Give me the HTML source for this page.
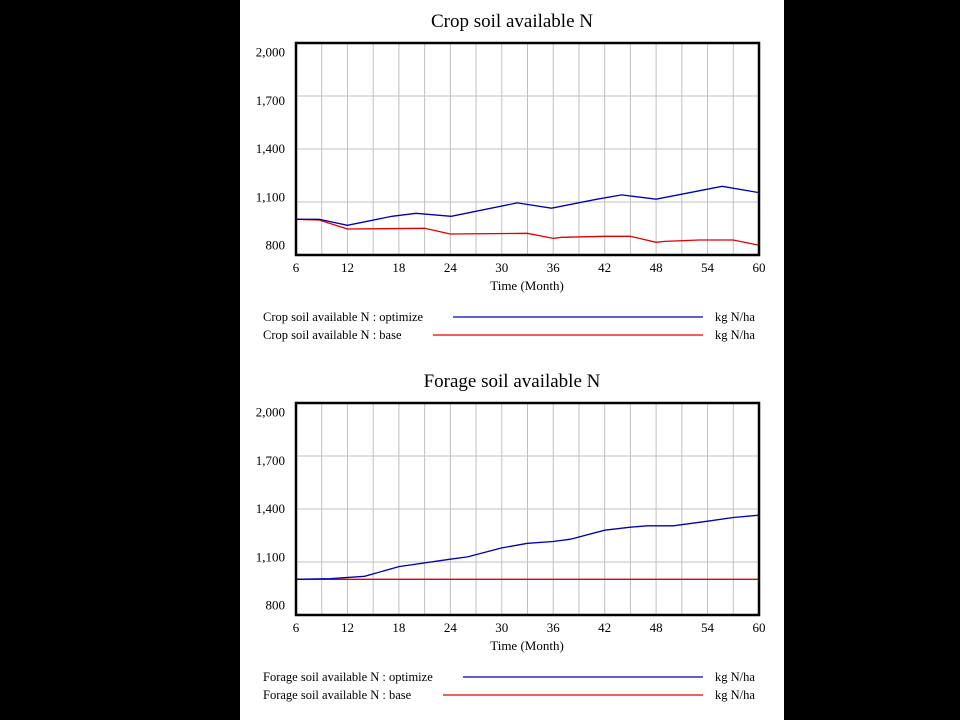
<!DOCTYPE html>
<html><head><meta charset="utf-8"><style>
html,body{margin:0;padding:0;background:#000;width:960px;height:720px;overflow:hidden}
#panel{position:absolute;left:240px;top:0;width:544px;height:720px;background:#fff}
svg{position:absolute;left:0;top:0}
text{font-family:"Liberation Serif",serif;fill:#000}
</style></head><body>
<div id="panel"></div>
<svg id="svg" width="960" height="720"></svg>
<script>
const xTicks = [6,12,18,24,30,36,42,48,54,60];
const yTicks = [800,1100,1400,1700,2000];
const yTickLabels = ["800","1,100","1,400","1,700","2,000"];
const cropOptT = [6,8.7,12,17.2,20,24.1,31.8,35.8,41.1,44,48,55.7,60];
const cropOptV = [1002,1002,968,1019,1036,1019,1095,1065,1116,1140,1116,1189,1153];
const cropBaseT = [6,8.7,12,21,24,33,36,37,42,45,48,49,53,57,60];
const cropBaseV = [1002,998,947,951,919,923,894,900,906,906,872,877,885,885,855];
const forOptT = [6,10,14,18,24,26,30,33,36,38,42,45,47,50,54,57,60];
const forOptV = [1002,1006,1019,1074,1116,1129,1180,1206,1216,1229,1280,1297,1305,1305,1331,1352,1365];
const forBaseT = [6,60];
const forBaseV = [1002,1002];

const NS="http://www.w3.org/2000/svg";
const svg=document.getElementById('svg');
function el(tag,attrs,parent){const e=document.createElementNS(NS,tag);for(const k in attrs)e.setAttribute(k,attrs[k]);(parent||svg).appendChild(e);return e;}
function txt(s,x,y,size,anchor,parent){const t=el('text',{x:x,y:y,'font-size':size,'text-anchor':anchor||'start'},parent);t.textContent=s;return t;}

function chart(top,title,name,series,legend){
  const L=296,R=759,T=top+43,B=top+255;
  const xs=v=>L+(v-6)/54*(R-L);
  const ys=v=>B-(v-800)/1200*(B-T);
  const labelY=v=>top+245-(v-800)/1200*193;
  const g=el('g',{});
  
  
  const tt=txt(title,512,top+27,19,'middle',g);
  
  
  for(let m=6;m<=60;m+=3){
    const l=el('line',{x1:xs(m),x2:xs(m),y1:T,y2:B,stroke:'#c0c0c0','stroke-width':1},g);
    
    
  }
  yTicks.forEach((v,i)=>{
    const l=el('line',{x1:L,x2:R,y1:ys(v),y2:ys(v),stroke:'#c0c0c0','stroke-width':1},g);
    
    
    const t=txt(yTickLabels[i],285,labelY(v)+4.5,13,'end',g);
    
    
  });
  xTicks.forEach(v=>{
    const t=txt(String(v),xs(v),B+17,13,'middle',g);
    
    
  });
  const at=txt('Time (Month)',527,B+35,13,'middle',g);
  
  
  series.forEach(s=>{
    const pts=s.t.map((t,i)=>xs(t).toFixed(1)+','+ys(s.v[i]).toFixed(1)).join(' ');
    const p=el('polyline',{points:pts,fill:'none',stroke:s.color,'stroke-width':1.3},g);
    
    
  });
  const f=el('rect',{x:L,y:T,width:R-L,height:B-T,fill:'none',stroke:'#000','stroke-width':2.5},g);
  
  
  legend.forEach(lg=>{
    const t=txt(lg.label,263,lg.y,12.5,'start',g);
    
    
    const l=el('line',{x1:lg.x1,x2:703,y1:lg.y-4,y2:lg.y-4,stroke:lg.color,'stroke-width':1.2},g);
    
    
    const u=txt('kg N/ha',715,lg.y,12.5,'start',g);
    
    
  });
}
chart(0,'Crop soil available N','crop',
 [{t:cropBaseT,v:cropBaseV,color:'#e00000',name:'crop-base-line'},{t:cropOptT,v:cropOptV,color:'#0000b0',name:'crop-optimize-line'}],
 [{label:'Crop soil available N : optimize',y:321,x1:453,color:'#0000b0'},{label:'Crop soil available N : base',y:339,x1:433,color:'#e00000'}]);
chart(360,'Forage soil available N','forage',
 [{t:forBaseT,v:forBaseV,color:'#e00000',name:'forage-base-line'},{t:forOptT,v:forOptV,color:'#0000b0',name:'forage-optimize-line'}],
 [{label:'Forage soil available N : optimize',y:681,x1:463,color:'#0000b0'},{label:'Forage soil available N : base',y:699,x1:443,color:'#e00000'}]);
</script>
</body></html>
